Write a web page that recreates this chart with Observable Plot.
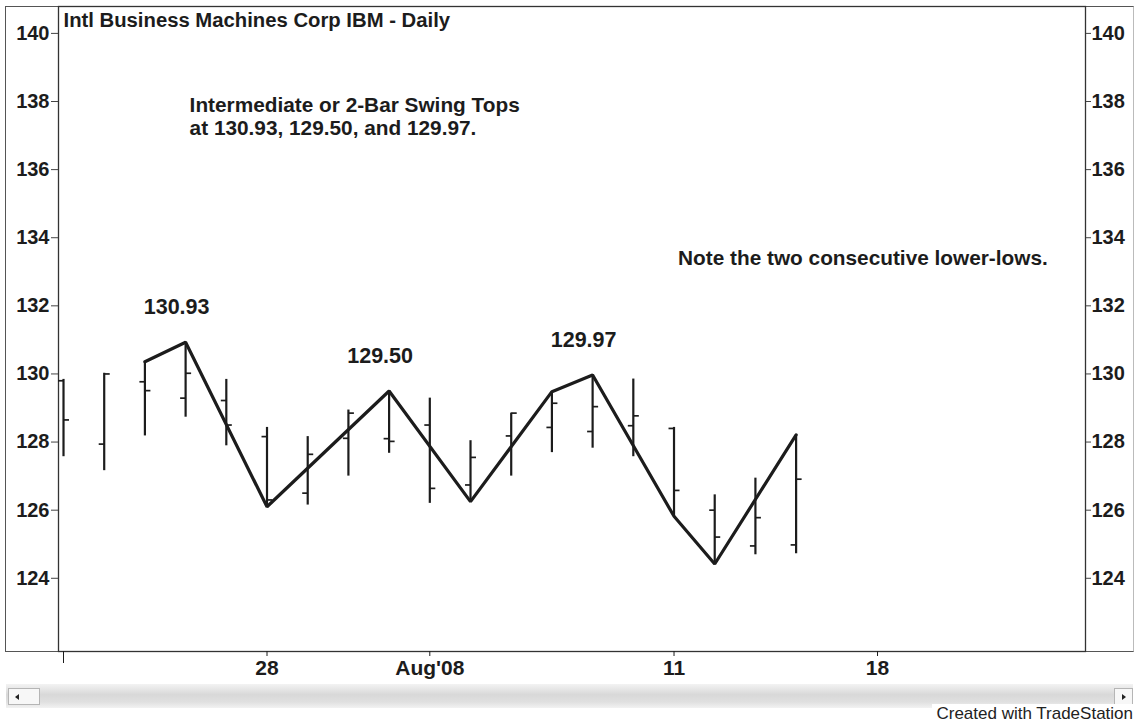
<!DOCTYPE html>
<html>
<head>
<meta charset="utf-8">
<script src="https://cdn.jsdelivr.net/npm/d3@7"></script>
<script src="https://cdn.jsdelivr.net/npm/@observablehq/plot@0.6"></script>
<style>
  html, body { margin: 0; padding: 0; background: #fff; }
  #wrap { position: relative; width: 1138px; height: 723px; overflow: hidden; font-family: "Liberation Sans", Arial, sans-serif; }
  #chart { position: absolute; left: 0; top: 0; }
  #outer { position: absolute; left: 5px; top: 6px; width: 1127px; height: 644px; border: 1px solid #555; border-right-color: #bbb; box-sizing: content-box; }
  #scroll { position: absolute; left: 6px; top: 684px; width: 1127px; height: 24px;
            background: linear-gradient(to bottom, #f3f3f3 0%, #d8d8d8 45%, #e0e0e0 75%, #f2f2f2 100%); }
  .btn { position: absolute; top: 688px; height: 17px; background: #f7f7f7; border: 1px solid #b5b5b5; box-sizing: border-box; }
  #btnL { left: 8px; width: 32px; }
  #btnR { left: 1114px; width: 19px; }
  .tri { position: absolute; top: 5px; width: 0; height: 0; border-top: 3px solid transparent; border-bottom: 3px solid transparent; }
  #btnL .tri { left: 6px; border-right: 4px solid #222; }
  #btnR .tri { left: 7px; border-left: 4px solid #222; }
  #credit { position: absolute; right: 5px; top: 704px; background: #fff; padding: 0 0 0 4px; font-size: 17px; color: #222; line-height: 19px; }
</style>
</head>
<body>
<div id="wrap">
  <div id="outer"></div>
  <div id="scroll"></div>
  <div class="btn" id="btnL"><div class="tri"></div></div>
  <div class="btn" id="btnR"><div class="tri"></div></div>
  <div id="chart"></div>
  <div id="credit">Created with TradeStation</div>
</div>
<script>
// ---- Data ----
const title = "Intl Business Machines Corp IBM - Daily";
const dates  = ["2008-07-21","2008-07-22","2008-07-23","2008-07-24","2008-07-25",
                "2008-07-28","2008-07-29","2008-07-30","2008-07-31","2008-08-01",
                "2008-08-04","2008-08-05","2008-08-06","2008-08-07","2008-08-08",
                "2008-08-11","2008-08-12","2008-08-13","2008-08-14"];
const opens  = [129.80,127.94,129.77,129.29,129.22,128.16,126.50,128.11,128.10,128.50,
                126.74,128.18,128.43,128.31,128.48,128.40,126.00,124.95,124.98];
const highs  = [129.84,130.02,130.36,130.93,129.84,128.43,128.16,128.94,129.50,129.29,
                128.04,128.85,129.48,129.97,129.85,128.43,126.45,126.94,128.21];
const lows   = [127.57,127.16,128.18,128.73,127.89,126.10,126.15,127.00,127.67,126.20,
                126.25,127.00,127.69,127.82,127.57,125.82,124.42,124.69,124.72];
const closes = [128.65,130.00,129.51,130.02,128.50,126.30,127.64,128.85,128.02,126.64,
                127.55,128.85,129.14,129.04,128.77,126.58,125.21,125.78,126.91];

// swing line pivots (date + whether it's a high or a low)
const swingDates = ["2008-07-23","2008-07-24","2008-07-28","2008-07-31","2008-08-04",
                    "2008-08-06","2008-08-07","2008-08-11","2008-08-12","2008-08-14"];
const swingKinds = ["H","H","L","H","L","H","H","L","L","H"];

// labelled swing tops
const topDates = ["2008-07-24","2008-07-31","2008-08-07"];
const topLabels = ["130.93","129.50","129.97"];

const yTicks = [124,126,128,130,132,134,136,138,140];
const xTickDates  = ["2008-07-21","2008-07-28","2008-08-01","2008-08-11","2008-08-18"];
const xTickLabels = ["","28","Aug'08","11","18"];

const noteTexts = ["Intermediate or 2-Bar Swing Tops\nat 130.93, 129.50, and 129.97.",
                   "Note the two consecutive lower-lows."];
const noteDates = ["2008-07-24","2008-08-11"];
const notePrices = [137.58, 133.41];

// ---- Trading-day calendar (weekdays) so that x is a bar index ----
const parse = d3.utcParse("%Y-%m-%d");
const calendar = d3.utcDays(parse("2008-07-21"), parse("2008-08-27"))
  .filter(d => d.getUTCDay() !== 0 && d.getUTCDay() !== 6)
  .map(d => d3.utcFormat("%Y-%m-%d")(d));
const idx = s => calendar.indexOf(s);

const bars = dates.map((d, k) => ({i: idx(d), open: opens[k], high: highs[k], low: lows[k], close: closes[k]}));
const byDate = new Map(dates.map((d, k) => [d, bars[k]]));
const swings = swingDates.map((d, k) => ({i: idx(d), value: swingKinds[k] === "H" ? byDate.get(d).high : byDate.get(d).low}));
const tops = topDates.map((d, k) => ({i: idx(d), value: byDate.get(d).high, label: topLabels[k]}));
const notes = noteTexts.map((t, k) => ({i: idx(noteDates[k]), value: notePrices[k], text: t}));
const xTickIdx = xTickDates.map(idx);
const xLabelOf = new Map(xTickIdx.map((v, k) => [v, xTickLabels[k]]));

// custom symbols for open (left) and close (right) ticks
const tickLeft  = {draw(ctx) { ctx.moveTo(-5.5, 0); ctx.lineTo(0, 0); }};
const tickRight = {draw(ctx) { ctx.moveTo(0, 0); ctx.lineTo(5.5, 0); }};

const ink = "#1c1c1c";
const font = "'Liberation Sans', Arial, sans-serif";

const chart = Plot.plot({
  width: 1138,
  height: 684,
  marginLeft: 58,
  marginRight: 53,
  marginTop: 6,
  marginBottom: 33,
  style: {fontFamily: font, background: "transparent", color: ink, overflow: "visible"},
  x: {type: "linear", domain: [-0.123, 25.11]},
  y: {domain: [121.85, 140.79]},
  marks: [
    Plot.frame({stroke: "#333", strokeWidth: 1.3}),
    Plot.axisY(yTicks, {anchor: "left", tickSize: 7, tickPadding: 2, fontSize: 20, fontWeight: "bold", label: null, stroke: "#444"}),
    Plot.axisY(yTicks, {anchor: "right", tickSize: 5, tickPadding: 1, fontSize: 20, fontWeight: "bold", label: null, stroke: "#444"}),
    Plot.axisX(xTickIdx.slice(1), {anchor: "bottom", tickSize: 5, tickPadding: 4, fontSize: 21, fontWeight: "bold", label: null,
      tickFormat: d => xLabelOf.get(d)}),
    Plot.axisX(xTickIdx.slice(0, 1), {anchor: "bottom", tickSize: 12, tickFormat: () => "", label: null}),
    Plot.ruleX(bars, {x: "i", y1: "low", y2: "high", stroke: ink, strokeWidth: 2.2}),
    Plot.dot(bars, {x: "i", y: "open", symbol: tickLeft, fill: "none", stroke: ink, strokeWidth: 1.7, r: 3}),
    Plot.dot(bars, {x: "i", y: "close", symbol: tickRight, fill: "none", stroke: ink, strokeWidth: 1.7, r: 3}),
    Plot.line(swings, {x: "i", y: "value", stroke: ink, strokeWidth: 3.2, strokeLinejoin: "miter"}),
    Plot.text(tops, {x: "i", y: "value", text: "label", dx: -9, dy: -35, fontSize: 21.5, fontWeight: "bold", fill: ink}),
    Plot.text(notes, {x: "i", y: "value", text: "text", dx: 4, textAnchor: "start", lineAnchor: "middle", lineHeight: 1.15, fontSize: 20.8, fontWeight: "bold", fill: ink}),
    Plot.text([title], {frameAnchor: "top-left", dx: 5, dy: 6, lineAnchor: "top", fontSize: 20.3, fontWeight: "bold", fill: ink})
  ]
});
document.getElementById("chart").appendChild(chart);
</script>
</body>
</html>
